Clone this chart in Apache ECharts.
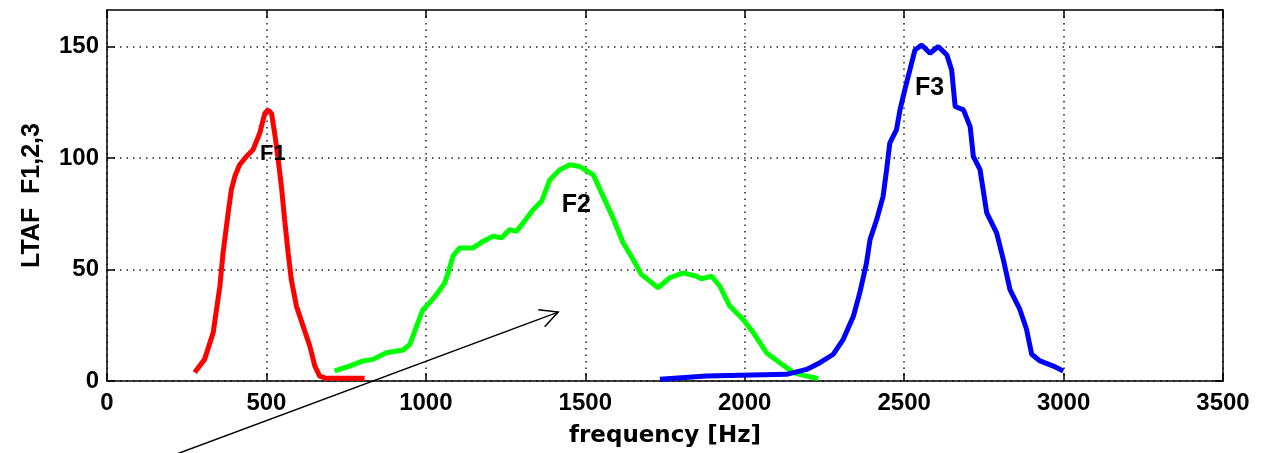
<!DOCTYPE html>
<html>
<head>
<meta charset="utf-8">
<script src="https://cdn.jsdelivr.net/npm/echarts@6/dist/echarts.min.js"></script>
<style>
html,body{margin:0;padding:0;background:#fff;}
#chart{width:1267px;height:453px;}
</style>
</head>
<body>
<div id="chart"></div>
<script>
// ---- data ----
var xTicks = [0, 500, 1000, 1500, 2000, 2500, 3000, 3500];
var yTicks = [0, 50, 100, 150];
var xName = 'frequency [Hz]';
var yName = 'LTAF  F1,2,3';

var f1Data = [[275,3.8],[306,9.7],[333,21.7],[354,42.5],[364,57.5],[380,75.4],[390,85.8],[401,91.8],[416,97],[437,100.7],[458,103.7],[479,111.2],[495,120],[505,121.6],[516,120],[526,111],[537,99.2],[547,87.3],[557,72.4],[568,57.5],[578,45.5],[594,33.6],[615,24.6],[636,15.7],[652,6.7],[667,2.2],[688,1.2],[808,1.2]];

var f2Data = [[714,4.5],[761,6.7],[803,9],[834,9.7],[876,12.7],[929,13.9],[950,16.4],[971,24.6],[991,32.1],[1012,35.1],[1038,39.6],[1059,44],[1070,48.5],[1085,56],[1106,59.7],[1148,59.7],[1180,62.7],[1211,64.9],[1237,64.2],[1263,67.9],[1284,67.1],[1305,70.9],[1337,76.9],[1363,80.6],[1389,90.3],[1420,94.8],[1452,97],[1483,96.2],[1525,92.5],[1556,82.8],[1587,73.1],[1619,61.9],[1650,54.5],[1676,47.8],[1728,41.8],[1765,46.3],[1807,48.5],[1849,47],[1864,45.8],[1896,47],[1922,42.5],[1953,33.6],[1995,27.6],[2027,21.7],[2068,12.7],[2110,8.2],[2152,3.8],[2194,2.2],[2230,1.1]];

var f3Data = [[1734,0.8],[1880,2.2],[2131,3],[2194,5.2],[2236,8.2],[2278,12],[2309,18.7],[2341,29.1],[2361,39.6],[2382,53],[2393,63.4],[2414,72.4],[2434,82.8],[2445,94.8],[2455,106.7],[2476,112.7],[2487,121.6],[2502,130.6],[2518,139.5],[2534,148.5],[2555,150.7],[2581,147],[2607,150],[2634,146.2],[2649,139.5],[2660,123.1],[2686,121.6],[2707,114.1],[2717,100.7],[2738,94.8],[2759,75.4],[2790,66.4],[2811,54.5],[2832,41],[2863,32.1],[2884,23.1],[2900,12],[2926,9],[2968,6.7],[2999,4.5]];

var peakLabels = [['F1',520,102],['F2',1472,78.8],['F3',2580,131.3]];
var arrowTail = [176, -35];
var arrowHead = [1415, 30.9];

// ---- chart ----
var X_MIN = 0, X_MAX = 3500, X_INT = 500;
var Y_MIN = 0, Y_MAX = 166.4, Y_INT = 50;
var FONT = '"Liberation Sans", Arial, sans-serif';

var chart = echarts.init(document.getElementById('chart'), null, {renderer: 'canvas'});

function mainAxisLine(){ return {show: true, onZero: false, lineStyle: {color: '#000', width: 1.5}}; }
function tickStyle(){ return {show: true, inside: true, length: 8, lineStyle: {color: '#000', width: 1.5}}; }

var option = {
  backgroundColor: '#fff',
  animation: false,
  grid: {left: 107, right: 44, top: 10, bottom: 71, containLabel: false},
  xAxis: [{
    type: 'value', min: X_MIN, max: X_MAX, interval: X_INT, position: 'bottom',
    name: xName, nameLocation: 'middle', nameGap: 44,
    nameTextStyle: {fontFamily: '"DejaVu Sans", sans-serif', fontWeight: 'bold', fontSize: 23, color: '#000'},
    axisLine: mainAxisLine(), axisTick: tickStyle(),
    axisLabel: {margin: 10, color: '#000', fontFamily: FONT, fontWeight: 'bold', fontSize: 24,
      formatter: function(v){ return xTicks.indexOf(v) >= 0 ? String(v) : ''; }},
    splitLine: {show: true, lineStyle: {color: '#222', width: 1.5, type: [1.5, 5]}}
  }, {
    type: 'value', min: X_MIN, max: X_MAX, interval: X_INT, position: 'top',
    axisLine: mainAxisLine(), axisTick: tickStyle(), axisLabel: {show: false}, splitLine: {show: false}
  }],
  yAxis: [{
    type: 'value', min: Y_MIN, max: Y_MAX, interval: Y_INT, position: 'left',
    name: yName, nameLocation: 'middle', nameGap: 62, nameRotate: 90,
    nameTextStyle: {fontFamily: FONT, fontWeight: 'bold', fontSize: 25, color: '#000'},
    axisLine: mainAxisLine(), axisTick: tickStyle(),
    axisLabel: {margin: 8, color: '#000', fontFamily: FONT, fontWeight: 'bold', fontSize: 24,
      showMaxLabel: false,
      formatter: function(v){ return yTicks.indexOf(v) >= 0 ? String(v) : ''; }},
    splitLine: {show: true, lineStyle: {color: '#222', width: 1.5, type: [1.5, 5]},
      showMaxLine: false}
  }, {
    type: 'value', min: Y_MIN, max: Y_MAX, interval: Y_INT, position: 'right',
    axisLine: mainAxisLine(), axisTick: tickStyle(), axisLabel: {show: false}, splitLine: {show: false}
  }],
  series: [
    {type: 'line', name: 'F1', data: f1Data, showSymbol: false, lineStyle: {color: '#ff0000', width: 5}, itemStyle: {color: '#ff0000'}, z: 3},
    {type: 'line', name: 'F2', data: f2Data, showSymbol: false, lineStyle: {color: '#00ff00', width: 5}, itemStyle: {color: '#00ff00'}, z: 3},
    {type: 'line', name: 'F3', data: f3Data, showSymbol: false, lineStyle: {color: '#0000ff', width: 5}, itemStyle: {color: '#0000ff'}, z: 4}
  ]
};
chart.setOption(option);

// annotations (peak labels and arrow), positioned through the coordinate system
var graphics = [];
peakLabels.forEach(function(p, i){
  var c = chart.convertToPixel({xAxisIndex: 0, yAxisIndex: 0}, [p[1], p[2]]);
  graphics.push({type: 'text', z: 100, x: c[0], y: c[1],
    style: {text: p[0], fill: '#000', align: 'center', verticalAlign: 'middle',
      font: 'bold ' + (i === 0 ? 22 : 25) + 'px "Liberation Sans", Arial, sans-serif'}});
});
var t = chart.convertToPixel({xAxisIndex: 0, yAxisIndex: 0}, arrowTail);
var h = chart.convertToPixel({xAxisIndex: 0, yAxisIndex: 0}, arrowHead);
var ang = Math.atan2(t[1] - h[1], t[0] - h[0]);
var L = 20, spread = 27 * Math.PI / 180;
var a1 = [h[0] + L * Math.cos(ang + spread), h[1] + L * Math.sin(ang + spread)];
var a2 = [h[0] + L * Math.cos(ang - spread), h[1] + L * Math.sin(ang - spread)];
graphics.push({type: 'polyline', z: 100, shape: {points: [t, h]}, style: {stroke: '#000', lineWidth: 1.5, fill: null}});
graphics.push({type: 'polyline', z: 100, shape: {points: [a1, h, a2]}, style: {stroke: '#000', lineWidth: 1.5, fill: null}});
chart.setOption({graphic: graphics});
</script>
</body>
</html>
